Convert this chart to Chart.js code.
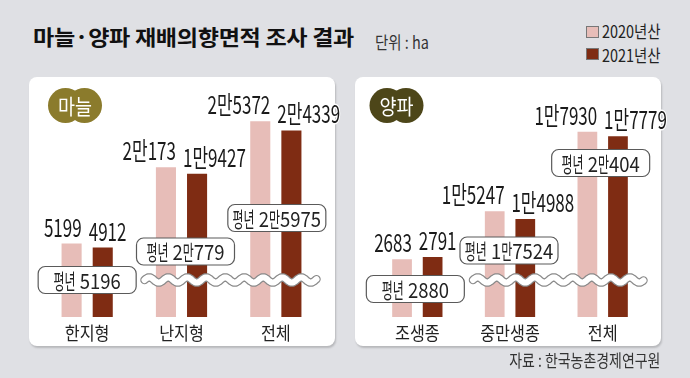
<!DOCTYPE html>
<html><head><meta charset="utf-8">
<script src="https://cdn.jsdelivr.net/npm/chart.js@4.4.1/dist/chart.umd.min.js"></script>
<style>
html,body{margin:0;padding:0}
body{width:690px;height:378px;background:#dfe0e4;position:relative;overflow:hidden;font-family:"Noto Sans CJK KR",sans-serif;color:#222}
.panel{position:absolute;top:77px;width:306px;height:269px;background:#fff;border-radius:8px;box-shadow:1px 2px 2px rgba(0,0,0,0.18)}
.cw{position:absolute;top:77px;width:330px;height:269px}
.t{position:absolute;white-space:nowrap;line-height:1}
#title{left:33px;top:26px;font-size:21px;font-weight:700;transform:scaleX(1.1);transform-origin:0 50%;letter-spacing:-0.3px;color:#111}
#unit{left:375px;top:33px;font-size:17px;transform:scaleX(0.85);transform-origin:0 50%;color:#333}
.lg{position:absolute;left:586px;width:11px;height:10px;border:1px solid #777}
.lt{left:602px;font-size:17px;transform:scaleX(0.85);transform-origin:0 50%;color:#222}
#src{right:30px;top:351px;font-size:17px;transform:scaleX(0.82);transform-origin:100% 50%;color:#333}
</style></head>
<body>
<div class="t" id="title">마늘·양파 재배의향면적 조사 결과</div>
<div class="t" id="unit">단위 : ha</div>
<div class="lg" id="lg0" style="top:26px"></div>
<div class="lg" id="lg1" style="top:48px"></div>
<div class="t lt" id="lt0" style="top:22px"></div>
<div class="t lt" id="lt1" style="top:46px"></div>
<div class="panel" style="left:29px"></div>
<div class="panel" style="left:355px"></div>
<div class="cw" style="left:29px"><canvas id="c1" width="330" height="269"></canvas></div>
<div class="cw" style="left:355px"><canvas id="c2" width="330" height="269"></canvas></div>
<div class="t" id="src">자료 : 한국농촌경제연구원</div>
<script>
// ---- data ----
const seriesLabels = ['2020년산', '2021년산'];
const garlicCategories = ['한지형', '난지형', '전체'];
const garlic2020 = [5199, 20173, 25372];
const garlic2021 = [4912, 19427, 24339];
const garlicAvg = [5196, 20779, 25975];
const onionCategories = ['조생종', '중만생종', '전체'];
const onion2020 = [2683, 15247, 17930];
const onion2021 = [2791, 14988, 17779];
const onionAvg = [2880, 17524, 20404];

const COLORS = ['#e7bdb8', '#7f2c13'];
document.getElementById('lg0').style.background = COLORS[0];
document.getElementById('lg1').style.background = COLORS[1];
document.getElementById('lt0').textContent = seriesLabels[0];
document.getElementById('lt1').textContent = seriesLabels[1];

function fmt(v) {
  return v >= 10000 ? Math.floor(v / 10000) + '만' + (v % 10000) : String(v);
}

// ---- broken linear scale ----
class BrokenScale extends Chart.LinearScale {
  _m(v) {
    const o = this.options;
    if (v <= o.brkFrom) return v;
    if (v >= o.brkTo) return o.brkFrom + (v - o.brkTo) * o.brkRatio;
    return o.brkFrom;
  }
  getPixelForValue(v) {
    const lo = this._m(this.min), hi = this._m(this.max);
    return this.getPixelForDecimal((this._m(v) - lo) / (hi - lo));
  }
  getValueForPixel(p) {
    const o = this.options;
    const lo = this._m(this.min), hi = this._m(this.max);
    const t = lo + this.getDecimalForPixel(p) * (hi - lo);
    return t <= o.brkFrom ? t : o.brkTo + (t - o.brkFrom) / o.brkRatio;
  }
}
BrokenScale.id = 'broken';
BrokenScale.defaults = Chart.LinearScale.defaults;
Chart.register(BrokenScale);

// ---- text helper (condensed glyphs) ----
function drawText(ctx, text, x, y, o) {
  ctx.save();
  ctx.font = (o.weight || 400) + ' ' + o.size + 'px "Noto Sans CJK KR"';
  ctx.textBaseline = o.baseline || 'alphabetic';
  ctx.textAlign = 'left';
  const parts = [...text].map(ch => {
    const s = /[\uAC00-\uD7A3]/.test(ch) ? o.hs : o.ds;
    return { ch, s, w: ctx.measureText(ch).width * s };
  });
  const total = parts.reduce((a, p) => a + p.w, 0);
  let x0 = o.align === 'right' ? x - total : o.align === 'center' ? x - total / 2 : x;
  const passes = o.stroke ? ['s', 'f'] : ['f'];
  for (const pass of passes) {
    let cx = x0;
    for (const p of parts) {
      ctx.save();
      ctx.translate(cx, y);
      ctx.scale(p.s, 1);
      if (pass === 's') {
        ctx.lineWidth = o.strokeW || 3; ctx.strokeStyle = o.stroke; ctx.lineJoin = 'round';
        ctx.strokeText(p.ch, 0, 0);
      } else {
        ctx.fillStyle = o.color || '#222';
        ctx.fillText(p.ch, 0, 0);
      }
      ctx.restore();
      cx += p.w;
    }
  }
  ctx.restore();
}

function roundRect(ctx, x, y, w, h, r) {
  ctx.beginPath();
  ctx.moveTo(x + r, y);
  ctx.arcTo(x + w, y, x + w, y + h, r);
  ctx.arcTo(x + w, y + h, x, y + h, r);
  ctx.arcTo(x, y + h, x, y, r);
  ctx.arcTo(x, y, x + w, y, r);
  ctx.closePath();
}

const decor = {
  id: 'decor',
  afterDatasetsDraw(chart, args, opts) {
    const ctx = chart.ctx, xs = chart.scales.x, area = chart.chartArea;
    const n = chart.data.labels.length;
    // break mark
    const yc = area.bottom - opts.waveOffset;
    const x0 = xs.getPixelForValue(1) - 37, x1 = xs.getPixelForValue(n - 1) + 41;
    ctx.save();
    ctx.beginPath();
    for (let x = x0; x <= x1; x += 0.5) {
      const yy = yc - 2.6 * Math.sin((x - x0) / 19 * 2 * Math.PI);
      if (x === x0) ctx.moveTo(x, yy); else ctx.lineTo(x, yy);
    }
    ctx.lineCap = 'round';
    ctx.lineWidth = 8.5; ctx.strokeStyle = '#8a8a8a'; ctx.stroke();
    ctx.lineWidth = 6; ctx.strokeStyle = '#ffffff'; ctx.stroke();
    ctx.restore();
    // average boxes
    opts.avg.forEach((v, i) => {
      const cx = xs.getPixelForValue(i) + opts.avgDx[i];
      const cy = area.bottom - opts.avgOffsets[i];
      ctx.save();
      roundRect(ctx, cx - 49, cy - 13.5, 98, 27, 7);
      ctx.fillStyle = '#fff'; ctx.fill();
      ctx.lineWidth = 1.2; ctx.strokeStyle = '#5a5a5a'; ctx.stroke();
      ctx.restore();
      drawText(ctx, '평년 ' + fmt(v), cx, cy + 1, { size: 21, hs: 0.57, ds: 0.88, align: 'center', baseline: 'middle', color: '#222' });
    });
    // value labels
    chart.data.datasets.forEach((ds, di) => {
      const meta = chart.getDatasetMeta(di);
      meta.data.forEach((bar, i) => {
        const left = bar.x - bar.width / 2, right = bar.x + bar.width / 2;
        const tx = di === 0 ? right : left - 4;
        drawText(ctx, fmt(ds.data[i]), tx, bar.y - 7, { size: 25, hs: 0.68, ds: 0.68, align: di === 0 ? 'right' : 'left', color: '#1a1a1a', stroke: '#fff', strokeW: 3 });
      });
    });
    // category labels
    chart.data.labels.forEach((lab, i) => {
      drawText(ctx, lab, xs.getPixelForValue(i), area.bottom + 16, { size: 18, hs: 0.9, ds: 0.9, align: 'center', baseline: 'middle', color: '#222' });
    });
    // tag
    ctx.save();
    ctx.fillStyle = opts.tagColor;
    ctx.beginPath(); ctx.arc(opts.tagX - 9.5, 28.5, 17.5, 0, Math.PI * 2); ctx.fill();
    ctx.beginPath(); ctx.arc(opts.tagX + 9.5, 28.5, 17.5, 0, Math.PI * 2); ctx.fill();
    ctx.restore();
    drawText(ctx, opts.tag, opts.tagX, 29, { size: 21, hs: 0.88, ds: 0.88, align: 'center', baseline: 'middle', color: '#fff' });
  }
};

function makeChart(id, cats, d20, d21, yCfg, padLeft, decorCfg) {
  return new Chart(document.getElementById(id), {
    type: 'bar',
    data: {
      labels: cats,
      datasets: [
        { label: seriesLabels[0], data: d20, backgroundColor: COLORS[0], categoryPercentage: 0.66, barPercentage: 0.645 },
        { label: seriesLabels[1], data: d21, backgroundColor: COLORS[1], categoryPercentage: 0.66, barPercentage: 0.645 }
      ]
    },
    options: {
      responsive: false,
      animation: false,
      devicePixelRatio: 1,
      layout: { padding: { left: padLeft, right: 36, top: 21, bottom: 29 } },
      scales: {
        x: { type: 'category', display: false },
        y: Object.assign({ type: 'broken', display: false, min: 0 }, yCfg)
      },
      plugins: { legend: { display: false }, tooltip: { enabled: false }, decor: decorCfg }
    },
    plugins: [decor]
  });
}

makeChart('c1', garlicCategories, garlic2020, garlic2021,
  { max: 28000, brkFrom: 5400, brkTo: 11866, brkRatio: 0.626 }, 11,
  { avg: garlicAvg, avgOffsets: [37, 65.5, 99], avgDx: [0, 4, 1], waveOffset: 37, tag: '마늘', tagColor: '#8b7b2c', tagX: 46 });

makeChart('c2', onionCategories, onion2020, onion2021,
  { max: 19070, brkFrom: 3000, brkTo: 13860, brkRatio: 1.376 }, 16,
  { avg: onionAvg, avgOffsets: [28, 66.5, 154], avgDx: [-2, -1, -2], waveOffset: 37, tag: '양파', tagColor: '#4d4619', tagX: 41.5 });
</script>
</body></html>
